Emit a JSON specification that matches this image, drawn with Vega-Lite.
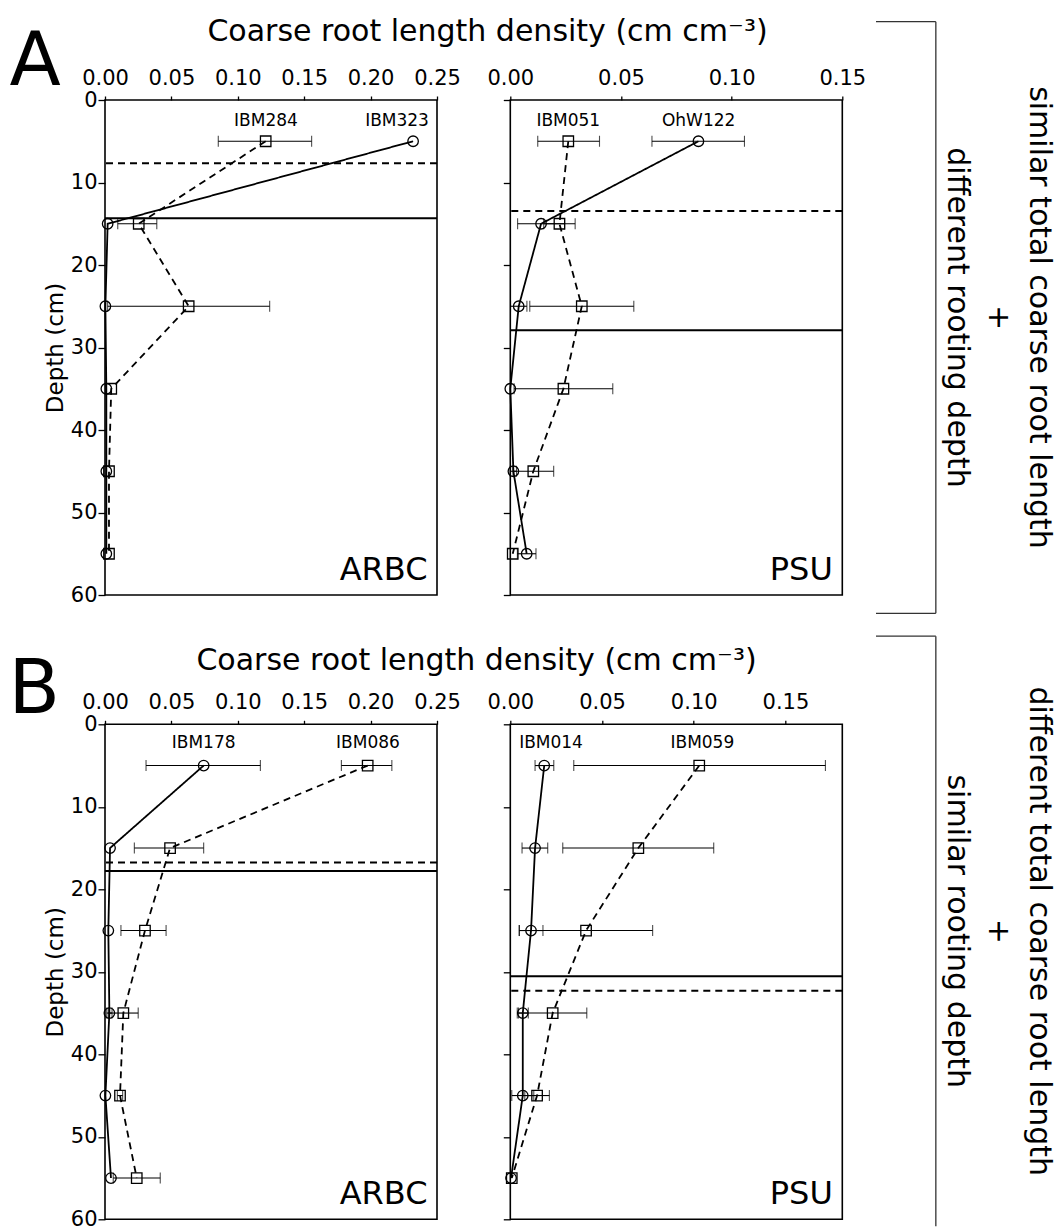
{
  "$schema": "https://vega.github.io/schema/vega-lite/v6.json",
  "padding": {"left": 7, "top": 15, "right": 5, "bottom": 0},
  "config": {
    "font": "DejaVu Sans",
    "view": {"stroke": "black", "strokeWidth": 1.6},
    "axis": {"labelFont": "DejaVu Sans", "titleFont": "DejaVu Sans", "labelColor": "black", "titleColor": "black", "tickColor": "black", "domain": false, "grid": false, "titleFontWeight": "normal", "tickWidth": 1.3},
    "text": {"font": "DejaVu Sans", "color": "black"},
    "title": {"font": "DejaVu Sans", "fontWeight": "normal", "color": "black"}
  },
  "datasets": {
    "roots": [
      {"panel": "A_ARBC", "geno": "IBM323", "depth": 5, "v": 0.232, "lo": null, "hi": null},
      {"panel": "A_ARBC", "geno": "IBM323", "depth": 15, "v": 0.002, "lo": null, "hi": null},
      {"panel": "A_ARBC", "geno": "IBM323", "depth": 25, "v": 0.0003, "lo": null, "hi": null},
      {"panel": "A_ARBC", "geno": "IBM323", "depth": 35, "v": 0.001, "lo": null, "hi": null},
      {"panel": "A_ARBC", "geno": "IBM323", "depth": 45, "v": 0.001, "lo": null, "hi": null},
      {"panel": "A_ARBC", "geno": "IBM323", "depth": 55, "v": 0.001, "lo": null, "hi": null},
      {"panel": "A_ARBC", "geno": "IBM284", "depth": 5, "v": 0.121, "lo": 0.0853, "hi": 0.1556},
      {"panel": "A_ARBC", "geno": "IBM284", "depth": 15, "v": 0.0254, "lo": 0.0096, "hi": 0.039},
      {"panel": "A_ARBC", "geno": "IBM284", "depth": 25, "v": 0.063, "lo": 0.002, "hi": 0.124},
      {"panel": "A_ARBC", "geno": "IBM284", "depth": 35, "v": 0.0047, "lo": null, "hi": null},
      {"panel": "A_ARBC", "geno": "IBM284", "depth": 45, "v": 0.003, "lo": null, "hi": null},
      {"panel": "A_ARBC", "geno": "IBM284", "depth": 55, "v": 0.003, "lo": null, "hi": null},
      {"panel": "A_PSU", "geno": "OhW122", "depth": 5, "v": 0.085, "lo": 0.064, "hi": 0.1058},
      {"panel": "A_PSU", "geno": "OhW122", "depth": 15, "v": 0.0139, "lo": 0.0033, "hi": 0.0245},
      {"panel": "A_PSU", "geno": "OhW122", "depth": 25, "v": 0.0038, "lo": 0.0001, "hi": 0.0075},
      {"panel": "A_PSU", "geno": "OhW122", "depth": 35, "v": 0.0, "lo": null, "hi": null},
      {"panel": "A_PSU", "geno": "OhW122", "depth": 45, "v": 0.0014, "lo": 0.0, "hi": 0.0028},
      {"panel": "A_PSU", "geno": "OhW122", "depth": 55, "v": 0.0074, "lo": 0.0032, "hi": 0.0116},
      {"panel": "A_PSU", "geno": "IBM051", "depth": 5, "v": 0.0262, "lo": 0.0124, "hi": 0.0403},
      {"panel": "A_PSU", "geno": "IBM051", "depth": 15, "v": 0.0222, "lo": 0.0151, "hi": 0.0293},
      {"panel": "A_PSU", "geno": "IBM051", "depth": 25, "v": 0.0323, "lo": 0.0088, "hi": 0.0558},
      {"panel": "A_PSU", "geno": "IBM051", "depth": 35, "v": 0.024, "lo": 0.0017, "hi": 0.0463},
      {"panel": "A_PSU", "geno": "IBM051", "depth": 45, "v": 0.0104, "lo": 0.0012, "hi": 0.0196},
      {"panel": "A_PSU", "geno": "IBM051", "depth": 55, "v": 0.0011, "lo": null, "hi": null},
      {"panel": "B_ARBC", "geno": "IBM178", "depth": 5, "v": 0.0743, "lo": 0.0309, "hi": 0.117},
      {"panel": "B_ARBC", "geno": "IBM178", "depth": 15, "v": 0.0038, "lo": null, "hi": null},
      {"panel": "B_ARBC", "geno": "IBM178", "depth": 25, "v": 0.0025, "lo": null, "hi": null},
      {"panel": "B_ARBC", "geno": "IBM178", "depth": 35, "v": 0.0033, "lo": 0.0013, "hi": 0.0053},
      {"panel": "B_ARBC", "geno": "IBM178", "depth": 45, "v": 0.0003, "lo": null, "hi": null},
      {"panel": "B_ARBC", "geno": "IBM178", "depth": 55, "v": 0.0045, "lo": null, "hi": null},
      {"panel": "B_ARBC", "geno": "IBM086", "depth": 5, "v": 0.1978, "lo": 0.178, "hi": 0.216},
      {"panel": "B_ARBC", "geno": "IBM086", "depth": 15, "v": 0.049, "lo": 0.0221, "hi": 0.0743},
      {"panel": "B_ARBC", "geno": "IBM086", "depth": 25, "v": 0.0301, "lo": 0.012, "hi": 0.046},
      {"panel": "B_ARBC", "geno": "IBM086", "depth": 35, "v": 0.0138, "lo": 0.0025, "hi": 0.025},
      {"panel": "B_ARBC", "geno": "IBM086", "depth": 45, "v": 0.0113, "lo": 0.0093, "hi": 0.0133},
      {"panel": "B_ARBC", "geno": "IBM086", "depth": 55, "v": 0.0239, "lo": 0.0062, "hi": 0.0416},
      {"panel": "B_PSU", "geno": "IBM014", "depth": 5, "v": 0.0185, "lo": 0.0135, "hi": 0.0237},
      {"panel": "B_PSU", "geno": "IBM014", "depth": 15, "v": 0.0135, "lo": 0.0064, "hi": 0.0204},
      {"panel": "B_PSU", "geno": "IBM014", "depth": 25, "v": 0.0113, "lo": 0.0048, "hi": 0.0178},
      {"panel": "B_PSU", "geno": "IBM014", "depth": 35, "v": 0.0068, "lo": 0.0038, "hi": 0.0098},
      {"panel": "B_PSU", "geno": "IBM014", "depth": 45, "v": 0.0068, "lo": 0.0008, "hi": 0.0128},
      {"panel": "B_PSU", "geno": "IBM014", "depth": 55, "v": 0.0004, "lo": null, "hi": null},
      {"panel": "B_PSU", "geno": "IBM059", "depth": 5, "v": 0.103, "lo": 0.0346, "hi": 0.1718},
      {"panel": "B_PSU", "geno": "IBM059", "depth": 15, "v": 0.0698, "lo": 0.0286, "hi": 0.1109},
      {"panel": "B_PSU", "geno": "IBM059", "depth": 25, "v": 0.0413, "lo": 0.005, "hi": 0.0776},
      {"panel": "B_PSU", "geno": "IBM059", "depth": 35, "v": 0.0231, "lo": 0.0045, "hi": 0.0417},
      {"panel": "B_PSU", "geno": "IBM059", "depth": 45, "v": 0.0146, "lo": 0.0079, "hi": 0.0213},
      {"panel": "B_PSU", "geno": "IBM059", "depth": 55, "v": 0.0008, "lo": null, "hi": null}
    ],
    "rooting": [
      {"panel": "A_ARBC", "geno": "IBM284", "depth": 7.67},
      {"panel": "A_ARBC", "geno": "IBM323", "depth": 14.34},
      {"panel": "A_PSU", "geno": "IBM051", "depth": 13.45},
      {"panel": "A_PSU", "geno": "OhW122", "depth": 27.9},
      {"panel": "B_ARBC", "geno": "IBM086", "depth": 16.75},
      {"panel": "B_ARBC", "geno": "IBM178", "depth": 17.77},
      {"panel": "B_PSU", "geno": "IBM014", "depth": 30.55},
      {"panel": "B_PSU", "geno": "IBM059", "depth": 32.3}
    ],
    "labels": [
      {"panel": "A_ARBC", "geno": "IBM284", "x": 0.1212, "depth": 3.1},
      {"panel": "A_ARBC", "geno": "IBM323", "x": 0.2199, "depth": 3.1},
      {"panel": "A_PSU", "geno": "IBM051", "x": 0.0262, "depth": 3.1},
      {"panel": "A_PSU", "geno": "OhW122", "x": 0.0851, "depth": 3.1},
      {"panel": "B_ARBC", "geno": "IBM178", "x": 0.0743, "depth": 2.9},
      {"panel": "B_ARBC", "geno": "IBM086", "x": 0.198, "depth": 2.9},
      {"panel": "B_PSU", "geno": "IBM014", "x": 0.0222, "depth": 2.9},
      {"panel": "B_PSU", "geno": "IBM059", "x": 0.1047, "depth": 2.9}
    ],
    "sites": [
      {"panel": "A_ARBC", "site": "ARBC", "x": 0.25, "depth": 60},
      {"panel": "A_PSU", "site": "PSU", "x": 0.15, "depth": 60},
      {"panel": "B_ARBC", "site": "ARBC", "x": 0.25, "depth": 60},
      {"panel": "B_PSU", "site": "PSU", "x": 0.181, "depth": 60}
    ],
    "letters": [
      {"panel": "A_ARBC", "letter": "A", "x": 0, "depth": 0},
      {"panel": "B_ARBC", "letter": "B", "x": 0, "depth": 0}
    ],
    "bracket": [
      {"br": "A", "x": 0, "x2": 0.34, "y": 0, "y2": 0},
      {"br": "A", "x": 0.34, "x2": 0.34, "y": 0, "y2": 1},
      {"br": "A", "x": 0, "x2": 0.34, "y": 1, "y2": 1},
      {"br": "B", "x": 0, "x2": 0.34, "y": 0, "y2": 0},
      {"br": "B", "x": 0.34, "x2": 0.34, "y": 0, "y2": 1}
    ],
    "notes": [
      {"br": "A", "x": 0.875, "y": 0.5, "note": "similar total coarse root length\n+\ndifferent rooting depth"},
      {"br": "B", "x": 0.875, "y": 0.5, "note": "different total coarse root length\n+\nsimilar rooting depth"}
    ]
  },
  "spacing": 7,
  "resolve": {"scale": {"x": "independent", "y": "independent"}},
  "hconcat": [
    {
      "spacing": 37.3,
      "resolve": {"scale": {"x": "independent", "y": "independent"}},
      "vconcat": [
        {
          "spacing": 73.3,
          "bounds": "flush",
          "resolve": {"scale": {"x": "independent", "y": "independent", "shape": "independent", "strokeDash": "independent"}},
          "hconcat": [
            {
              "width": 332, "height": 495,
              "data": {"name": "roots"},
              "transform": [{"filter": "datum.panel === 'A_ARBC'"}],
              "encoding": {"y": {"field": "depth", "type": "quantitative", "scale": {"domain": [0, 60], "reverse": true, "nice": false}, "axis": {"values": [0, 10, 20, 30, 40, 50, 60], "tickSize": 7, "labelPadding": 1, "labelFontSize": 21, "title": "Depth (cm)", "titleFontSize": 23, "titlePadding": 3}}},
              "layer": [
                {"transform": [{"filter": "datum.lo != null"}], "mark": {"type": "rule", "color": "black", "strokeWidth": 1.1}, "encoding": {"x": {"field": "lo", "type": "quantitative"}, "x2": {"field": "hi"}}},
                {"transform": [{"filter": "datum.lo != null"}], "mark": {"type": "tick", "orient": "vertical", "color": "black", "thickness": 1.1, "size": 11}, "encoding": {"x": {"field": "lo", "type": "quantitative"}}},
                {"transform": [{"filter": "datum.lo != null"}], "mark": {"type": "tick", "orient": "vertical", "color": "black", "thickness": 1.1, "size": 11}, "encoding": {"x": {"field": "hi", "type": "quantitative"}}},
                {"mark": {"type": "line", "color": "black", "strokeWidth": 1.8}, "encoding": {"x": {"field": "v", "type": "quantitative"}, "order": {"field": "depth", "type": "quantitative"}, "strokeDash": {"field": "geno", "type": "nominal", "scale": {"domain": ["IBM323", "IBM284"], "range": [[1, 0], [7, 5]]}, "legend": null}}},
                {"mark": {"type": "point", "filled": false, "color": "black", "strokeWidth": 1.3, "size": 110, "opacity": 1}, "encoding": {"x": {"field": "v", "type": "quantitative", "scale": {"domain": [0, 0.25], "nice": false, "zero": false}, "axis": {"orient": "top", "values": [0, 0.05, 0.1, 0.15, 0.2, 0.25], "format": ".2f", "labelFontSize": 21, "labelPadding": 8, "tickSize": 4, "labelFlush": false, "labelOverlap": false, "title": "Coarse root length density (cm cm⁻³)", "titleFontSize": 30, "titlePadding": 20.3, "titleX": 382}}, "shape": {"field": "geno", "type": "nominal", "scale": {"domain": ["IBM323", "IBM284"], "range": ["circle", "square"]}, "legend": null}}},
                {"data": {"name": "rooting"}, "transform": [{"filter": "datum.panel === 'A_ARBC'"}], "mark": {"type": "rule", "color": "black", "strokeWidth": 2}, "encoding": {"y": {"field": "depth", "type": "quantitative"}, "strokeDash": {"field": "geno", "type": "nominal", "legend": null}}},
                {"data": {"name": "labels"}, "transform": [{"filter": "datum.panel === 'A_ARBC'"}], "mark": {"type": "text", "fontSize": 17, "baseline": "alphabetic", "align": "center"}, "encoding": {"x": {"field": "x", "type": "quantitative"}, "y": {"field": "depth", "type": "quantitative"}, "text": {"field": "geno"}}},
                {"data": {"name": "sites"}, "transform": [{"filter": "datum.panel === 'A_ARBC'"}], "mark": {"type": "text", "fontSize": 32, "baseline": "alphabetic", "align": "right", "dx": -9.5, "dy": -15}, "encoding": {"x": {"field": "x", "type": "quantitative"}, "y": {"field": "depth", "type": "quantitative"}, "text": {"field": "site"}}},
                {"data": {"name": "letters"}, "transform": [{"filter": "datum.panel === 'A_ARBC'"}], "mark": {"type": "text", "fontSize": 75, "baseline": "alphabetic", "align": "left", "dx": -95.5, "dy": -15}, "encoding": {"x": {"field": "x", "type": "quantitative"}, "y": {"field": "depth", "type": "quantitative"}, "text": {"field": "letter"}}}
              ]
            },
            {
              "width": 332, "height": 495,
              "data": {"name": "roots"},
              "transform": [{"filter": "datum.panel === 'A_PSU'"}],
              "encoding": {"y": {"field": "depth", "type": "quantitative", "scale": {"domain": [0, 60], "reverse": true, "nice": false}, "axis": {"values": [0, 10, 20, 30, 40, 50, 60], "tickSize": 7, "labels": false, "title": null}}},
              "layer": [
                {"transform": [{"filter": "datum.lo != null"}], "mark": {"type": "rule", "color": "black", "strokeWidth": 1.1}, "encoding": {"x": {"field": "lo", "type": "quantitative"}, "x2": {"field": "hi"}}},
                {"transform": [{"filter": "datum.lo != null"}], "mark": {"type": "tick", "orient": "vertical", "color": "black", "thickness": 1.1, "size": 11}, "encoding": {"x": {"field": "lo", "type": "quantitative"}}},
                {"transform": [{"filter": "datum.lo != null"}], "mark": {"type": "tick", "orient": "vertical", "color": "black", "thickness": 1.1, "size": 11}, "encoding": {"x": {"field": "hi", "type": "quantitative"}}},
                {"mark": {"type": "line", "color": "black", "strokeWidth": 1.8}, "encoding": {"x": {"field": "v", "type": "quantitative"}, "order": {"field": "depth", "type": "quantitative"}, "strokeDash": {"field": "geno", "type": "nominal", "scale": {"domain": ["OhW122", "IBM051"], "range": [[1, 0], [7, 5]]}, "legend": null}}},
                {"mark": {"type": "point", "filled": false, "color": "black", "strokeWidth": 1.3, "size": 110, "opacity": 1}, "encoding": {"x": {"field": "v", "type": "quantitative", "scale": {"domain": [0, 0.15], "nice": false, "zero": false}, "axis": {"orient": "top", "values": [0, 0.05, 0.1, 0.15], "format": ".2f", "labelFontSize": 21, "labelPadding": 8, "tickSize": 4, "labelFlush": false, "labelOverlap": false, "title": null}}, "shape": {"field": "geno", "type": "nominal", "scale": {"domain": ["OhW122", "IBM051"], "range": ["circle", "square"]}, "legend": null}}},
                {"data": {"name": "rooting"}, "transform": [{"filter": "datum.panel === 'A_PSU'"}], "mark": {"type": "rule", "color": "black", "strokeWidth": 2}, "encoding": {"y": {"field": "depth", "type": "quantitative"}, "strokeDash": {"field": "geno", "type": "nominal", "legend": null}}},
                {"data": {"name": "labels"}, "transform": [{"filter": "datum.panel === 'A_PSU'"}], "mark": {"type": "text", "fontSize": 17, "baseline": "alphabetic", "align": "center"}, "encoding": {"x": {"field": "x", "type": "quantitative"}, "y": {"field": "depth", "type": "quantitative"}, "text": {"field": "geno"}}},
                {"data": {"name": "sites"}, "transform": [{"filter": "datum.panel === 'A_PSU'"}], "mark": {"type": "text", "fontSize": 32, "baseline": "alphabetic", "align": "right", "dx": -9.5, "dy": -15}, "encoding": {"x": {"field": "x", "type": "quantitative"}, "y": {"field": "depth", "type": "quantitative"}, "text": {"field": "site"}}}
              ]
            }
          ]
        },
        {
          "spacing": 73.3,
          "bounds": "flush",
          "resolve": {"scale": {"x": "independent", "y": "independent", "shape": "independent", "strokeDash": "independent"}},
          "hconcat": [
            {
              "width": 332, "height": 495,
              "data": {"name": "roots"},
              "transform": [{"filter": "datum.panel === 'B_ARBC'"}],
              "encoding": {"y": {"field": "depth", "type": "quantitative", "scale": {"domain": [0, 60], "reverse": true, "nice": false}, "axis": {"values": [0, 10, 20, 30, 40, 50, 60], "tickSize": 7, "labelPadding": 1, "labelFontSize": 21, "title": "Depth (cm)", "titleFontSize": 23, "titlePadding": 3}}},
              "layer": [
                {"transform": [{"filter": "datum.lo != null"}], "mark": {"type": "rule", "color": "black", "strokeWidth": 1.1}, "encoding": {"x": {"field": "lo", "type": "quantitative"}, "x2": {"field": "hi"}}},
                {"transform": [{"filter": "datum.lo != null"}], "mark": {"type": "tick", "orient": "vertical", "color": "black", "thickness": 1.1, "size": 11}, "encoding": {"x": {"field": "lo", "type": "quantitative"}}},
                {"transform": [{"filter": "datum.lo != null"}], "mark": {"type": "tick", "orient": "vertical", "color": "black", "thickness": 1.1, "size": 11}, "encoding": {"x": {"field": "hi", "type": "quantitative"}}},
                {"mark": {"type": "line", "color": "black", "strokeWidth": 1.8}, "encoding": {"x": {"field": "v", "type": "quantitative"}, "order": {"field": "depth", "type": "quantitative"}, "strokeDash": {"field": "geno", "type": "nominal", "scale": {"domain": ["IBM178", "IBM086"], "range": [[1, 0], [7, 5]]}, "legend": null}}},
                {"mark": {"type": "point", "filled": false, "color": "black", "strokeWidth": 1.3, "size": 110, "opacity": 1}, "encoding": {"x": {"field": "v", "type": "quantitative", "scale": {"domain": [0, 0.25], "nice": false, "zero": false}, "axis": {"orient": "top", "values": [0, 0.05, 0.1, 0.15, 0.2, 0.25], "format": ".2f", "labelFontSize": 21, "labelPadding": 8, "tickSize": 4, "labelFlush": false, "labelOverlap": false, "title": "Coarse root length density (cm cm⁻³)", "titleFontSize": 30, "titlePadding": 16.3, "titleX": 371}}, "shape": {"field": "geno", "type": "nominal", "scale": {"domain": ["IBM178", "IBM086"], "range": ["circle", "square"]}, "legend": null}}},
                {"data": {"name": "rooting"}, "transform": [{"filter": "datum.panel === 'B_ARBC'"}], "mark": {"type": "rule", "color": "black", "strokeWidth": 2}, "encoding": {"y": {"field": "depth", "type": "quantitative"}, "strokeDash": {"field": "geno", "type": "nominal", "legend": null}}},
                {"data": {"name": "labels"}, "transform": [{"filter": "datum.panel === 'B_ARBC'"}], "mark": {"type": "text", "fontSize": 17, "baseline": "alphabetic", "align": "center"}, "encoding": {"x": {"field": "x", "type": "quantitative"}, "y": {"field": "depth", "type": "quantitative"}, "text": {"field": "geno"}}},
                {"data": {"name": "sites"}, "transform": [{"filter": "datum.panel === 'B_ARBC'"}], "mark": {"type": "text", "fontSize": 32, "baseline": "alphabetic", "align": "right", "dx": -9.5, "dy": -15}, "encoding": {"x": {"field": "x", "type": "quantitative"}, "y": {"field": "depth", "type": "quantitative"}, "text": {"field": "site"}}},
                {"data": {"name": "letters"}, "transform": [{"filter": "datum.panel === 'B_ARBC'"}], "mark": {"type": "text", "fontSize": 75, "baseline": "alphabetic", "align": "left", "dx": -96.5, "dy": -11}, "encoding": {"x": {"field": "x", "type": "quantitative"}, "y": {"field": "depth", "type": "quantitative"}, "text": {"field": "letter"}}}
              ]
            },
            {
              "width": 332, "height": 495,
              "data": {"name": "roots"},
              "transform": [{"filter": "datum.panel === 'B_PSU'"}],
              "encoding": {"y": {"field": "depth", "type": "quantitative", "scale": {"domain": [0, 60], "reverse": true, "nice": false}, "axis": {"values": [0, 10, 20, 30, 40, 50, 60], "tickSize": 7, "labels": false, "title": null}}},
              "layer": [
                {"transform": [{"filter": "datum.lo != null"}], "mark": {"type": "rule", "color": "black", "strokeWidth": 1.1}, "encoding": {"x": {"field": "lo", "type": "quantitative"}, "x2": {"field": "hi"}}},
                {"transform": [{"filter": "datum.lo != null"}], "mark": {"type": "tick", "orient": "vertical", "color": "black", "thickness": 1.1, "size": 11}, "encoding": {"x": {"field": "lo", "type": "quantitative"}}},
                {"transform": [{"filter": "datum.lo != null"}], "mark": {"type": "tick", "orient": "vertical", "color": "black", "thickness": 1.1, "size": 11}, "encoding": {"x": {"field": "hi", "type": "quantitative"}}},
                {"mark": {"type": "line", "color": "black", "strokeWidth": 1.8}, "encoding": {"x": {"field": "v", "type": "quantitative"}, "order": {"field": "depth", "type": "quantitative"}, "strokeDash": {"field": "geno", "type": "nominal", "scale": {"domain": ["IBM014", "IBM059"], "range": [[1, 0], [7, 5]]}, "legend": null}}},
                {"mark": {"type": "point", "filled": false, "color": "black", "strokeWidth": 1.3, "size": 110, "opacity": 1}, "encoding": {"x": {"field": "v", "type": "quantitative", "scale": {"domain": [0, 0.181], "nice": false, "zero": false}, "axis": {"orient": "top", "values": [0, 0.05, 0.1, 0.15], "format": ".2f", "labelFontSize": 21, "labelPadding": 8, "tickSize": 4, "labelFlush": false, "labelOverlap": false, "title": null}}, "shape": {"field": "geno", "type": "nominal", "scale": {"domain": ["IBM014", "IBM059"], "range": ["circle", "square"]}, "legend": null}}},
                {"data": {"name": "rooting"}, "transform": [{"filter": "datum.panel === 'B_PSU'"}], "mark": {"type": "rule", "color": "black", "strokeWidth": 2}, "encoding": {"y": {"field": "depth", "type": "quantitative"}, "strokeDash": {"field": "geno", "type": "nominal", "legend": null}}},
                {"data": {"name": "labels"}, "transform": [{"filter": "datum.panel === 'B_PSU'"}], "mark": {"type": "text", "fontSize": 17, "baseline": "alphabetic", "align": "center"}, "encoding": {"x": {"field": "x", "type": "quantitative"}, "y": {"field": "depth", "type": "quantitative"}, "text": {"field": "geno"}}},
                {"data": {"name": "sites"}, "transform": [{"filter": "datum.panel === 'B_PSU'"}], "mark": {"type": "text", "fontSize": 32, "baseline": "alphabetic", "align": "right", "dx": -9.5, "dy": -15}, "encoding": {"x": {"field": "x", "type": "quantitative"}, "y": {"field": "depth", "type": "quantitative"}, "text": {"field": "site"}}}
              ]
            }
          ]
        }
      ]
    },
    {
      "spacing": 19.2,
      "resolve": {"scale": {"x": "independent", "y": "independent"}},
      "vconcat": [
        {
          "width": 176, "height": 495,
          "view": {"stroke": "transparent"},
          "layer": [
            {"data": {"name": "bracket"}, "transform": [{"filter": "datum.br === 'A'"}], "mark": {"type": "rule", "color": "#333", "strokeWidth": 1.3}, "encoding": {"x": {"field": "x", "type": "quantitative", "scale": {"domain": [0, 1]}, "axis": null}, "x2": {"field": "x2"}, "y": {"field": "y", "type": "quantitative", "scale": {"domain": [0, 1], "range": [-78.3, 513.3]}, "axis": null}, "y2": {"field": "y2"}}},
            {"data": {"name": "notes"}, "transform": [{"filter": "datum.br === 'A'"}], "mark": {"type": "text", "fontSize": 30, "angle": 90, "align": "center", "baseline": "alphabetic", "lineBreak": "\n", "lineHeight": 41}, "encoding": {"x": {"field": "x", "type": "quantitative"}, "y": {"field": "y", "type": "quantitative"}, "text": {"field": "note"}}}
          ]
        },
        {
          "width": 176, "height": 590,
          "view": {"stroke": "transparent"},
          "layer": [
            {"data": {"name": "bracket"}, "transform": [{"filter": "datum.br === 'B'"}], "mark": {"type": "rule", "color": "#333", "strokeWidth": 1.3}, "encoding": {"x": {"field": "x", "type": "quantitative", "scale": {"domain": [0, 1]}, "axis": null}, "x2": {"field": "x2"}, "y": {"field": "y", "type": "quantitative", "scale": {"domain": [0, 1], "range": [0, 590]}, "axis": null}, "y2": {"field": "y2"}}},
            {"data": {"name": "notes"}, "transform": [{"filter": "datum.br === 'B'"}], "mark": {"type": "text", "fontSize": 30, "angle": 90, "align": "center", "baseline": "alphabetic", "lineBreak": "\n", "lineHeight": 41}, "encoding": {"x": {"field": "x", "type": "quantitative"}, "y": {"field": "y", "type": "quantitative"}, "text": {"field": "note"}}}
          ]
        }
      ]
    }
  ]
}
